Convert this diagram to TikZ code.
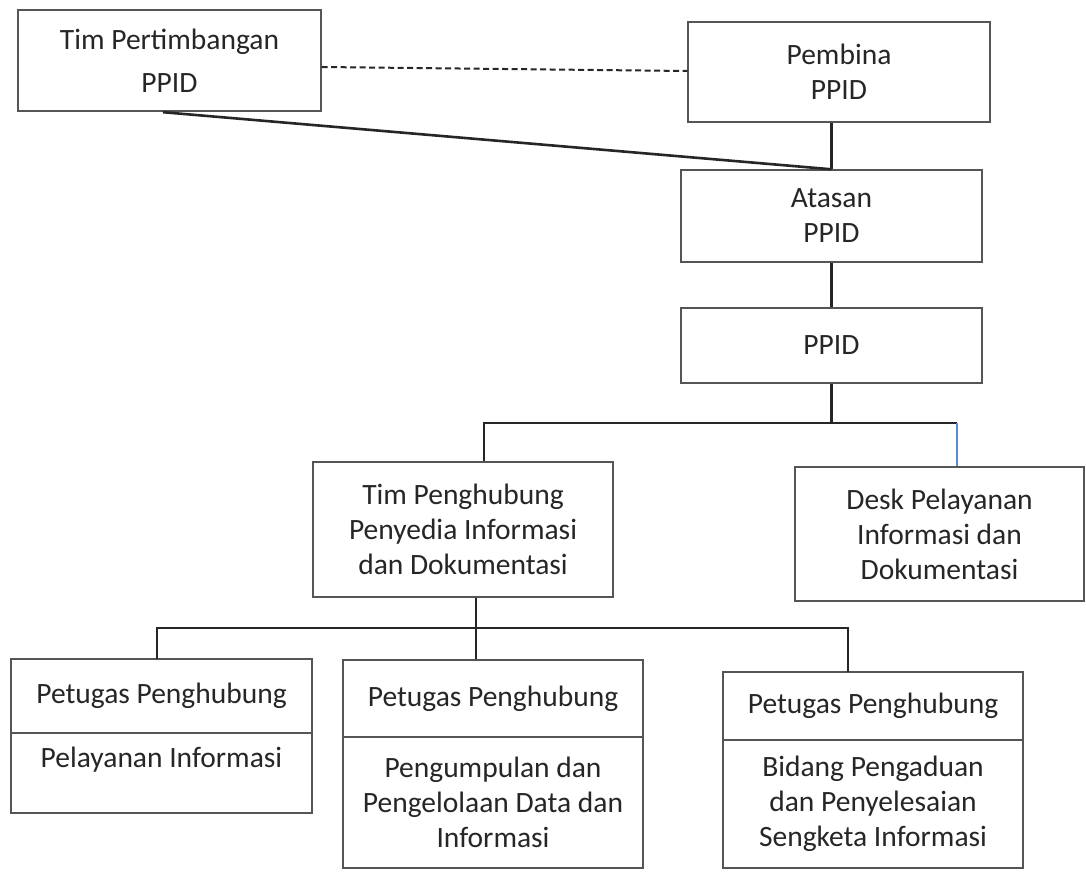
\documentclass[tikz,border=0pt]{standalone}
\usepackage{fontspec}
\setmainfont{Carlito}
\usetikzlibrary{calc}
\definecolor{txt}{HTML}{262626}
\definecolor{bord}{HTML}{555555}
\definecolor{conn}{HTML}{262626}
\definecolor{blu}{HTML}{5B8BD0}
\begin{document}
\begin{tikzpicture}[x=1pt,y=-1pt,
  box/.style={draw=bord, line width=1.4pt, rectangle, inner sep=0pt, align=center, text=txt, font=\fontsize{29.5}{35}\selectfont},
  lbl/.style={align=center, text=txt, inner sep=0pt, font=\fontsize{29.5}{35.5}\selectfont},
  conn/.style={draw=conn, line width=2.6pt},
  dashconn/.style={draw=conn, line width=2pt, dash pattern=on 6pt off 3.5pt},
  bluconn/.style={draw=blu, line width=1.8pt},
]
\useasboundingbox (0,0) rectangle (1086,872);
\fill[white] (0,0) rectangle (1086,872);

% top level
\node[box, minimum width=303, minimum height=101, font=\fontsize{29.5}{43}\selectfont] (tp) at (169.5,60.5) {Tim Pertimbangan\\PPID};
\node[box, minimum width=302, minimum height=100] (pb) at (839,72) {Pembina\\PPID};
\node[box, minimum width=301, minimum height=92] (at) at (831.5,216) {Atasan\\PPID};
\node[box, minimum width=301, minimum height=75] (pp) at (831.5,345.5) {PPID};

% middle level
\node[box, minimum width=300, minimum height=135] (th) at (463,529.5) {Tim Penghubung\\Penyedia Informasi\\dan Dokumentasi};
\node[box, minimum width=289, minimum height=134] (dk) at (939.5,534) {Desk Pelayanan\\Informasi dan\\Dokumentasi};

% bottom level
\node[box, minimum width=301, minimum height=74] (p1a) at (161.5,696) {Petugas Penghubung};
\node[box, minimum width=301, minimum height=80] (p1b) at (161.5,773) {};
\node[lbl] (p1t) at (161.5,760) {Pelayanan Informasi};

\node[box, minimum width=300, minimum height=77] (p2a) at (493,698.5) {Petugas Penghubung};
\node[box, minimum width=300, minimum height=131] (p2b) at (493,802.5) {Pengumpulan dan\\Pengelolaan Data dan\\Informasi};

\node[box, minimum width=300, minimum height=68] (p3a) at (873,706) {Petugas Penghubung};
\node[box, minimum width=300, minimum height=128] (p3b) at (873,804) {Bidang Pengaduan\\dan Penyelesaian\\Sengketa Informasi};

% connectors top
\draw[dashconn] ($(tp.east)+(0,6.5)$) -- ($(pb.west)+(0,-1)$);
\draw[conn] ($(tp.south)+(-6.5,0.5)$) -- (at.north);
\draw[conn] (at.north |- pb.south) -- (at.north);
\draw[conn] (at.south) -- (pp.north);

% connectors middle
\coordinate (j1) at (831.5,422);
\coordinate (thTop) at ($(th.north)+(21,0)$);
\coordinate (dkJ) at (957,423);
\draw[conn] (pp.south) -- (j1);
\draw[conn] (thTop) |- (dkJ);
\draw[bluconn] (dkJ) -- (dkJ |- dk.north);

% connectors bottom
\coordinate (thBot) at ($(th.south)+(13,0)$);
\coordinate (j2) at (476,628);
\coordinate (p1Top) at (157,659);
\coordinate (p3Top) at (848,672);
\draw[conn] (thBot) -- (j2 |- p2a.north);
\draw[conn] (p1Top) |- (j2) -- (p3Top |- j2) -- (p3Top);
\end{tikzpicture}
\end{document}
